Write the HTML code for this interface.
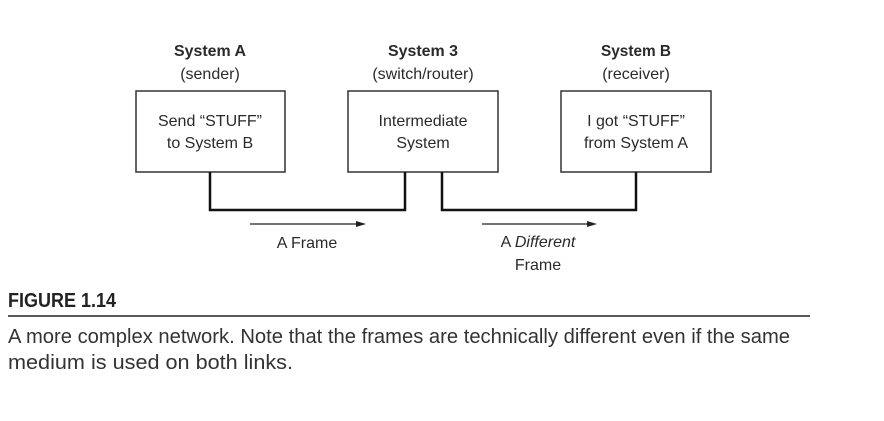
<!DOCTYPE html>
<html><head><meta charset="utf-8"><style>
html,body{margin:0;padding:0;background:#fff;}
svg{display:block;font-family:"Liberation Sans",Arial,sans-serif;}
</style></head><body>
<svg width="884" height="421" viewBox="0 0 884 421" xmlns="http://www.w3.org/2000/svg">
<g fill="#2a2a2a" font-size="16" text-anchor="middle">
<text x="210" y="56" font-weight="bold" textLength="72" lengthAdjust="spacingAndGlyphs">System A</text>
<text x="210" y="79">(sender)</text>
<text x="423" y="56" font-weight="bold" textLength="70" lengthAdjust="spacingAndGlyphs">System 3</text>
<text x="423" y="79">(switch/router)</text>
<text x="636" y="56" font-weight="bold" textLength="70" lengthAdjust="spacingAndGlyphs">System B</text>
<text x="636" y="79">(receiver)</text>
<text x="210" y="126">Send “STUFF”</text>
<text x="210" y="148">to System B</text>
<text x="423" y="126">Intermediate</text>
<text x="423" y="148">System</text>
<text x="636" y="126">I got “STUFF”</text>
<text x="636" y="148">from System A</text>
<text x="307" y="248">A Frame</text>
<text x="538" y="247">A <tspan font-style="italic">Different</tspan></text>
<text x="538" y="270">Frame</text>
</g>
<g fill="none" stroke="#333" stroke-width="1.5">
<rect x="136" y="91" width="149" height="81"/>
<rect x="348" y="91" width="150" height="81"/>
<rect x="561" y="91" width="150" height="81"/>
</g>
<g fill="none" stroke="#111" stroke-width="2.5">
<polyline points="210,172 210,210 405,210 405,172"/>
<polyline points="442,172 442,210 636,210 636,172"/>
</g>
<g stroke="#222" stroke-width="1.3">
<line x1="250" y1="224" x2="360" y2="224"/>
<line x1="482" y1="224" x2="591" y2="224"/>
</g>
<polygon points="366,224 356,221 356,227" fill="#222"/>
<polygon points="597,224 587,221 587,227" fill="#222"/>
<text x="8" y="307" font-size="20" font-weight="bold" fill="#222" textLength="108" lengthAdjust="spacingAndGlyphs">FIGURE 1.14</text>
<line x1="8" y1="316" x2="810" y2="316" stroke="#222" stroke-width="1.5"/>
<text x="8" y="343" font-size="20" fill="#333" textLength="782" lengthAdjust="spacingAndGlyphs">A more complex network. Note that the frames are technically different even if the same</text>
<text x="8" y="369" font-size="20" fill="#333" textLength="285" lengthAdjust="spacingAndGlyphs">medium is used on both links.</text>
</svg>
</body></html>
